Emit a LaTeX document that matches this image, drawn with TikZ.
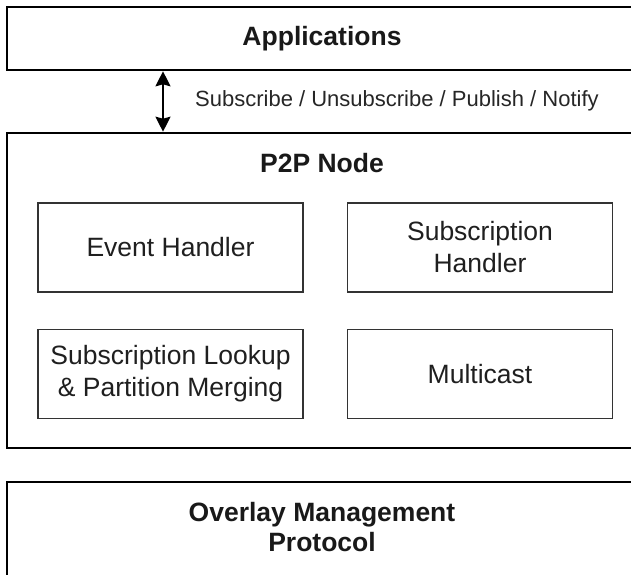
\documentclass[tikz,border=0pt]{standalone}
\usepackage{fontspec}
\setmainfont{Liberation Sans}
\usetikzlibrary{arrows.meta}
\begin{document}
\begin{tikzpicture}[x=1pt,y=-1pt,
  layerbox/.style={draw=black,line width=2.6pt,rectangle,inner sep=0pt},
  unitbox/.style={draw=black!80,line width=1.5pt,rectangle,inner sep=0pt,
    minimum width=265pt,minimum height=89pt,align=center,text=black!88,
    font=\fontsize{26.5}{32}\selectfont},
  title/.style={font=\fontsize{26.5}{30}\selectfont\bfseries,text=black!90,align=center,inner sep=0pt},
  msg/.style={font=\fontsize{22}{26}\selectfont,text=black!85,inner sep=0pt}]
\useasboundingbox[clip] (0,0) rectangle (631,574);
\fill[white] (0,0) rectangle (631,574);

% upper layer
\node[layerbox,minimum width=630pt,minimum height=63pt,title] (app) at (322,38.5) {Applications};

% peer node with its four components
\node[layerbox,minimum width=630pt,minimum height=315pt] (p2p) at (322,290.5) {};
\node[title] (p2ptitle) at (322,163) {P2P Node};
\node[unitbox] (event) at (170.5,247.5) {Event Handler};
\node[unitbox] (subh) at (480,247.5) {Subscription\\Handler};
\node[unitbox] (lookup) at (170.5,374) {Subscription Lookup\\\& Partition Merging};
\node[unitbox] (mcast) at (480,374) {Multicast};

% lower layer
\node[layerbox,minimum width=630pt,minimum height=110pt] (ovl) at (322,537) {};
\node[title] (ovltitle) at (322,527) {Overlay Management\\Protocol};

% interface between applications and the peer node
\coordinate (ax) at (163,0);
\draw[line width=2pt,{Stealth[length=15pt,width=15pt,inset=2pt]}-{Stealth[length=15pt,width=15pt,inset=2pt]}]
  (app.south -| ax) -- (p2p.north -| ax);
\node[msg,anchor=west] (ops) at (195,101) {Subscribe / Unsubscribe / Publish / Notify};
\end{tikzpicture}
\end{document}
